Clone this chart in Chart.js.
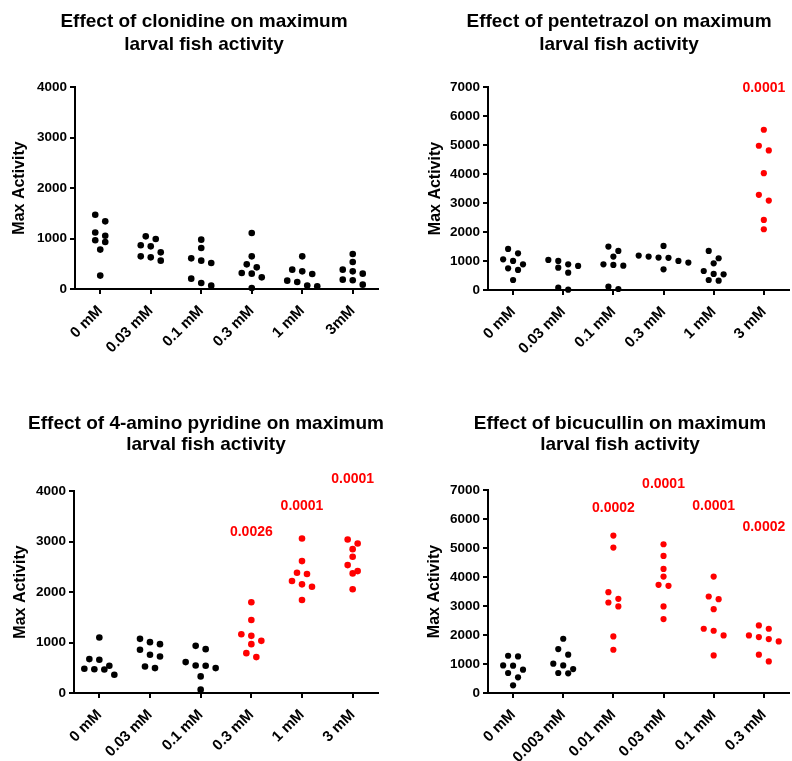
<!DOCTYPE html>
<html><head><meta charset="utf-8">
<script src="https://cdn.jsdelivr.net/npm/chart.js@4.4.0/dist/chart.umd.min.js"></script>
<style>
html,body{margin:0;padding:0;background:#fff;}
#wrap{position:relative;width:792px;height:761px;overflow:hidden;background:#fff;}
canvas{position:absolute;}
</style></head><body><div id="wrap">
<canvas id="c1" width="396" height="380" style="left:0;top:0"></canvas>
<canvas id="c2" width="396" height="380" style="left:396px;top:0"></canvas>
<canvas id="c3" width="396" height="381" style="left:0;top:380px"></canvas>
<canvas id="c4" width="396" height="381" style="left:396px;top:380px"></canvas>
</div>
<script>
// ---------- DATA ----------
const clonidineTitle = ['Effect of clonidine on maximum', 'larval fish activity'];
const clonidineCategories = ['0 mM', '0.03 mM', '0.1 mM', '0.3 mM', '1 mM', '3mM'];
const clonidineValues = [
  [1470, 1340, 1120, 1055, 965, 930, 780, 265],
  [1043, 990, 865, 845, 726, 647, 627, 561],
  [977, 812, 607, 561, 515, 205, 119, 66],
  [1109, 647, 488, 429, 317, 304, 231, 20],
  [647, 383, 350, 297, 165, 139, 70, 55],
  [693, 535, 383, 350, 304, 185, 172, 86]
];
const clonidinePLabels = [null, null, null, null, null, null];
const clonidinePLabelY = [null, null, null, null, null, null];
const clonidineYTicks = [0, 1000, 2000, 3000, 4000];

const pentetrazolTitle = ['Effect of pentetrazol on maximum', 'larval fish activity'];
const pentetrazolCategories = ['0 mM', '0.03 mM', '0.1 mM', '0.3 mM', '1 mM', '3 mM'];
const pentetrazolValues = [
  [1416, 1266, 1059, 1002, 887, 748, 691, 345],
  [1036, 1002, 887, 829, 771, 599, 81, 10],
  [1497, 1347, 1151, 887, 863, 840, 115, 35],
  [1520, 1186, 1151, 1117, 1110, 1002, 944, 714],
  [1347, 1094, 921, 656, 553, 540, 345, 320],
  [5526, 4974, 4812, 4029, 3281, 3085, 2418, 2095]
];
const pentetrazolPLabels = [null, null, null, null, null, '0.0001'];
const pentetrazolPLabelY = [null, null, null, null, null, 6965];
const pentetrazolYTicks = [0, 1000, 2000, 3000, 4000, 5000, 6000, 7000];

const aminopyridineTitle = ['Effect of 4-amino pyridine on maximum', 'larval fish activity'];
const aminopyridineCategories = ['0 mM', '0.03 mM', '0.1 mM', '0.3 mM', '1 mM', '3 mM'];
const aminopyridineValues = [
  [1099, 671, 658, 539, 480, 470, 465, 362],
  [1072, 1007, 967, 855, 757, 724, 526, 493],
  [934, 868, 612, 546, 540, 493, 329, 66],
  [1796, 1447, 1164, 1132, 1033, 967, 789, 711],
  [3059, 2612, 2382, 2355, 2217, 2151, 2105, 1842],
  [3039, 2961, 2849, 2697, 2533, 2414, 2368, 2053]
];
const aminopyridinePLabels = [null, null, null, '0.0026', '0.0001', '0.0001'];
const aminopyridinePLabelY = [null, null, null, 3178, 3697, 4237];
const aminopyridineYTicks = [0, 1000, 2000, 3000, 4000];

const bicucullinTitle = ['Effect of bicucullin on maximum', 'larval fish activity'];
const bicucullinCategories = ['0 mM', '0.003 mM', '0.01 mM', '0.03 mM', '0.1 mM', '0.3 mM'];
const bicucullinValues = [
  [1285, 1262, 952, 941, 803, 689, 539, 264],
  [1871, 1515, 1320, 1010, 952, 826, 689, 680],
  [5428, 5015, 3477, 3248, 3121, 2984, 1951, 1492],
  [5130, 4728, 4280, 4016, 3730, 3695, 2984, 2548],
  [4016, 3328, 3236, 2892, 2215, 2146, 1985, 1297],
  [2330, 2215, 1985, 1928, 1859, 1779, 1320, 1090]
];
const bicucullinPLabels = [null, null, '0.0002', '0.0001', '0.0001', '0.0002'];
const bicucullinPLabelY = [null, null, 6369, 7207, 6449, 5703];
const bicucullinYTicks = [0, 1000, 2000, 3000, 4000, 5000, 6000, 7000];

const yAxisLabel = 'Max Activity';

// ---------- RENDERING ----------
const FONT = "'Liberation Sans', Arial, sans-serif";
const BLACK = '#000000';
const RED = '#ff0000';
const ROW_H = 7.5;   // px, rows for scatter spreading
const SPACING = 10;  // px, horizontal spacing of spread points

function swarm(vals, idx, ymax, plotH, plotW, nCat) {
  const pyu = plotH / ymax, pxu = plotW / nCat;
  const sorted = vals.slice().sort((a, b) => b - a);
  const pts = [];
  let i = 0;
  while (i < sorted.length) {
    const row = [sorted[i]];
    let j = i + 1;
    while (j < sorted.length && (sorted[i] - sorted[j]) * pyu < ROW_H) { row.push(sorted[j]); j++; }
    row.forEach((v, k) => {
      const off = (k - (row.length - 1) / 2) * SPACING;
      pts.push({ x: idx + off / pxu, y: v });
    });
    i = j;
  }
  return pts;
}

const titlePlugin = {
  id: 'panelTitle',
  afterDraw(chart, args, opts) {
    const ctx = chart.ctx;
    ctx.save();
    ctx.fillStyle = BLACK;
    ctx.font = 'bold 19px ' + FONT;
    ctx.textAlign = 'center';
    ctx.textBaseline = 'middle';
    opts.lines.forEach((t, i) => ctx.fillText(t, opts.cx, opts.ys[i]));
    ctx.restore();
  }
};

const pPlugin = {
  id: 'pLabels',
  afterDatasetsDraw(chart, args, opts) {
    const ctx = chart.ctx, xs = chart.scales.x, ys = chart.scales.y;
    ctx.save();
    ctx.fillStyle = RED;
    ctx.font = 'bold 14px ' + FONT;
    ctx.textAlign = 'center';
    ctx.textBaseline = 'middle';
    opts.labels.forEach((t, i) => {
      if (t) ctx.fillText(t, xs.getPixelForValue(i), ys.getPixelForValue(opts.ys[i]));
    });
    ctx.restore();
  }
};

function makePanel(id, title, cats, values, pLabels, pY, yTicks, lay) {
  const W = lay.W, H = lay.H;
  const plotW = lay.R - lay.L, plotH = lay.B - lay.T;
  const ymax = yTicks[yTicks.length - 1];
  const datasets = values.map((vals, i) => ({
    data: swarm(vals, i, ymax, plotH, plotW, cats.length),
    backgroundColor: pLabels[i] ? RED : BLACK,
    borderColor: pLabels[i] ? RED : BLACK,
    borderWidth: 0,
    pointRadius: lay.r,
    pointHoverRadius: lay.r,
    showLine: false,
    clip: false
  }));
  new Chart(document.getElementById(id), {
    type: 'scatter',
    data: { datasets },
    options: {
      responsive: false,
      animation: false,
      events: [],
      layout: { padding: { left: 0, top: lay.T, right: W - lay.R, bottom: 0 } },
      plugins: {
        legend: { display: false },
        tooltip: { enabled: false },
        title: { display: false },
        panelTitle: { lines: title, cx: lay.tcx, ys: lay.tys },
        pLabels: { labels: pLabels, ys: pY }
      },
      scales: {
        x: {
          type: 'linear',
          min: -0.5,
          max: cats.length - 0.5,
          afterBuildTicks(s) { s.ticks = cats.map((c, i) => ({ value: i })); },
          afterFit(s) { s.height = H - lay.B; },
          ticks: {
            autoSkip: false,
            minRotation: 45,
            maxRotation: 45,
            padding: 8,
            color: BLACK,
            font: { family: FONT, size: 15, weight: 'bold' },
            callback: (v) => cats[v]
          },
          grid: { drawOnChartArea: false, color: BLACK, lineWidth: 2, tickLength: 5 },
          border: { color: BLACK, width: 2 }
        },
        y: {
          type: 'linear',
          min: 0,
          max: ymax,
          afterBuildTicks(s) { s.ticks = yTicks.map(v => ({ value: v })); },
          afterFit(s) { s.width = lay.L; },
          ticks: {
            color: BLACK,
            padding: 3,
            font: { family: FONT, size: 13.5, weight: 'bold' },
            callback: (v) => String(v)
          },
          grid: { drawOnChartArea: false, color: BLACK, lineWidth: 2, tickLength: 5 },
          border: { color: BLACK, width: 2 },
          title: {
            display: true,
            text: yAxisLabel,
            color: BLACK,
            font: { family: FONT, size: 16, weight: 'bold' },
            padding: { top: lay.yt - 9.6, bottom: 0 }
          }
        }
      }
    },
    plugins: [titlePlugin, pPlugin]
  });
}

makePanel('c1', clonidineTitle, clonidineCategories, clonidineValues, clonidinePLabels, clonidinePLabelY, clonidineYTicks,
  { W: 396, H: 380, L: 75, R: 378, T: 87, B: 289, yt: 20, tcx: 204, tys: [22, 45], r: 3.3 });
makePanel('c2', pentetrazolTitle, pentetrazolCategories, pentetrazolValues, pentetrazolPLabels, pentetrazolPLabelY, pentetrazolYTicks,
  { W: 396, H: 380, L: 92, R: 395, T: 87, B: 290, yt: 39.5, tcx: 223, tys: [22, 45], r: 3.1 });
makePanel('c3', aminopyridineTitle, aminopyridineCategories, aminopyridineValues, aminopyridinePLabels, aminopyridinePLabelY, aminopyridineYTicks,
  { W: 396, H: 381, L: 74, R: 378, T: 111, B: 313, yt: 20.5, tcx: 206, tys: [44, 65], r: 3.3 });
makePanel('c4', bicucullinTitle, bicucullinCategories, bicucullinValues, bicucullinPLabels, bicucullinPLabelY, bicucullinYTicks,
  { W: 396, H: 381, L: 92, R: 395, T: 110, B: 313, yt: 38.5, tcx: 224, tys: [44, 65], r: 3.1 });
</script>
</body></html>
